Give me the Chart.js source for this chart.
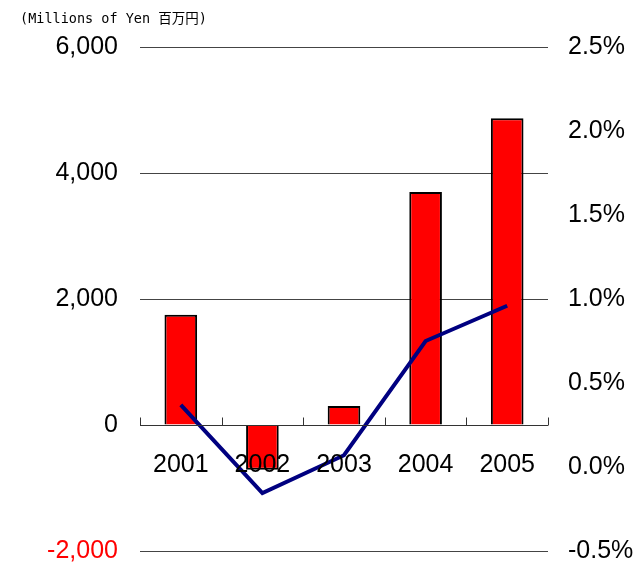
<!DOCTYPE html>
<html>
<head>
<meta charset="utf-8">
<script src="https://cdn.jsdelivr.net/npm/chart.js@4"></script>
<style>
  body { margin: 0; background: #fff; }
  .wrap { width: 637px; height: 564px; position: relative; }
  .unit {
    position: absolute; left: 20px; top: 7px;
    font: 13.5px 'DejaVu Sans Mono', 'Noto Sans CJK JP', monospace;
    color: #000; white-space: nowrap;
  }
</style>
</head>
<body>
<div class="wrap">
  <canvas id="myChart"></canvas>
  <div class="unit">(Millions of Yen 百万円)</div>
</div>
<script>
const years = ['2001', '2002', '2003', '2004', '2005'];
const profit = [1750, -710, 300, 3700, 4870];      // millions of yen
const margin = [0.37, -0.155, 0.07, 0.75, 0.96];   // percent
const leftTicks = [-2000, 0, 2000, 4000, 6000];
const rightTicks = [-0.5, 0, 0.5, 1, 1.5, 2, 2.5];

const numFont = "'Liberation Sans', Arial, sans-serif";
const ctx = document.getElementById('myChart');

// zero line with small upward ticks, and the year labels just under it
const zeroAxis = {
  id: 'zeroAxis',
  afterDatasetsDraw(chart) {
    const c = chart.ctx, x = chart.scales.x, y = chart.scales.y;
    const area = chart.chartArea;
    const y0 = Math.round(y.getPixelForValue(0)) + 0.5;
    c.save();
    c.strokeStyle = '#333';
    c.lineWidth = 1;
    c.beginPath();
    c.moveTo(area.left, y0);
    c.lineTo(area.right, y0);
    const step = (area.right - area.left) / years.length;
    for (let i = 0; i <= years.length; i++) {
      const px = Math.round(area.left + i * step) + 0.5;
      c.moveTo(px, y0);
      c.lineTo(px, y0 - 8);
    }
    c.stroke();
    c.fillStyle = '#000';
    c.font = '25px ' + numFont;
    c.textAlign = 'center';
    c.textBaseline = 'middle';
    years.forEach((yr, i) => c.fillText(yr, x.getPixelForValue(i), y0 + 40));
    c.restore();
  }
};

new Chart(ctx, {
  data: {
    labels: years,
    datasets: [{
      type: 'line',
      label: 'margin',
      data: margin,
      yAxisID: 'y1',
      borderColor: '#000080',
      borderWidth: 4,
      pointRadius: 0,
      tension: 0,
      order: 0
    }, {
      type: 'bar',
      label: 'profit',
      data: profit,
      yAxisID: 'y',
      backgroundColor: '#ff0000',
      borderColor: '#000',
      borderWidth: 2,
      categoryPercentage: 1,
      barPercentage: 0.4,
      order: 1
    }]
  },
  options: {
    responsive: true,
    maintainAspectRatio: false,
    animation: false,
    layout: { padding: { left: 0, right: 0, top: 47, bottom: 13 } },
    plugins: {
      legend: { display: false },
      tooltip: { enabled: false },
      title: { display: false }
    },
    scales: {
      x: {
        type: 'category',
        display: false,
        offset: true
      },
      y: {
        position: 'left',
        min: -2000,
        max: 6000,
        afterBuildTicks(axis) { axis.ticks = leftTicks.map(v => ({ value: v })); },
        afterFit(axis) { axis.width = 140; },
        grid: {
          color: ctx => ctx.tick && ctx.tick.value === 0 ? 'rgba(0,0,0,0)' : '#444',
          drawTicks: true,
          tickLength: 22,
          tickColor: 'rgba(0,0,0,0)'
        },
        border: { display: false },
        ticks: {
          padding: 0,
          color: ctx => ctx.tick.value < 0 ? '#ff0000' : '#000',
          font: { family: numFont, size: 25, lineHeight: 1 },
          callback: v => v.toLocaleString('en-US')
        }
      },
      y1: {
        position: 'right',
        min: -0.5,
        max: 2.5,
        afterBuildTicks(axis) { axis.ticks = rightTicks.map(v => ({ value: v })); },
        afterFit(axis) { axis.width = 89; },
        grid: { drawOnChartArea: false, drawTicks: true, tickLength: 20, tickColor: 'rgba(0,0,0,0)' },
        border: { display: false },
        ticks: {
          padding: 0,
          color: '#000',
          font: { family: numFont, size: 25, lineHeight: 1 },
          callback: v => v.toFixed(1) + '%'
        }
      }
    }
  },
  plugins: [zeroAxis]
});
</script>
</body>
</html>
